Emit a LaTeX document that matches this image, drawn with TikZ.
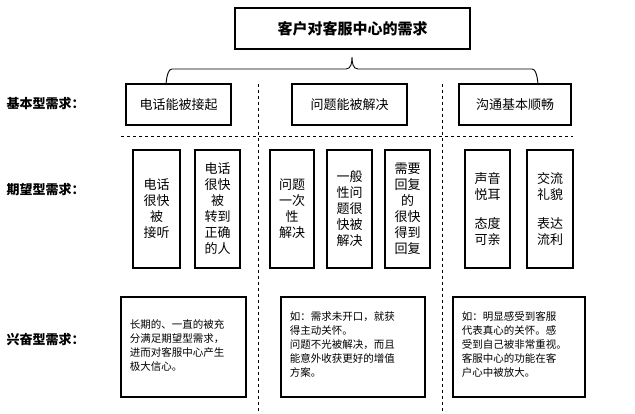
\documentclass[tikz,border=0pt]{standalone}
\usepackage{fontspec}
\setmainfont{Noto Sans CJK SC}
\usetikzlibrary{calc}
\begin{document}
\begin{tikzpicture}[x=1pt,y=-1pt,
 bx/.style={draw,line width=1.3pt,inner sep=0pt},
 dl/.style={dashed,line width=0.5pt},
 sm/.style={font=\fontsize{10.5}{14}\selectfont,align=left,anchor=north west},
 lab/.style={font=\fontsize{13}{15}\selectfont\bfseries,anchor=west}]
\useasboundingbox (0,0) rectangle (635,414);
\newcommand\bxat[6]{\node[bx,minimum width=#3-#1,minimum height=#4-#2,#6] (#5) at ({(#1+#3)/2},{(#2+#4)/2}) {};}
% title
\bxat{235}{8}{470}{49}{t}{}
\node[font=\fontsize{15}{17}\selectfont\bfseries] at (t) {客户对客服中心的需求};
% brace
\draw[line width=0.9pt] (166,84) to[out=-90,in=180] (172,69) -- (346,69) to[out=0,in=-90] (352,57) to[out=-90,in=180] (358,69) -- (532,69) to[out=0,in=-90] (538,84);
% basic
\bxat{126}{84}{231}{125}{b1}{}
\bxat{292}{84}{407}{125}{b2}{}
\bxat{459}{84}{571}{125}{b3}{}
\foreach \n/\s in {b1/电话能被接起,b2/问题能被解决,b3/沟通基本顺畅}
 \node[font=\fontsize{13}{15}\selectfont] at (\n) {\s};
% dashed
\coordinate (h1) at (121,136); \coordinate (h2) at (573,136);
\draw[dl] (h1) -- (h2);
\coordinate (v1a) at (258,84); \coordinate (v1b) at (258,414);
\coordinate (v2a) at (442,84); \coordinate (v2b) at (442,414);
\draw[dl] (v1a) -- (v1b); \draw[dl] (v2a) -- (v2b);
% expectation
\foreach \a/\b/\n/\s in {133/180/e1/{电话\\很快\\被\\接听},195/240/e2/{电话\\很快\\被\\转到\\正确\\的人},270/314/e3/{问题\\一次\\性\\解决},327/372/e4/{一般\\性问\\题很\\快被\\解决},385/430/e5/{需要\\回复\\的\\很快\\得到\\回复},465/510/e6/{声音\\悦耳\\[1em]态度\\可亲},527/573/e7/{交流\\礼貌\\[1em]表达\\流利}}{
 \bxat{\a}{150}{\b}{268}{\n}{}
 \node[font=\fontsize{13}{16}\selectfont,align=center] at (\n) {\s};
}
% excitement
\bxat{121}{297}{246}{397}{x1}{}
\bxat{281}{297}{425}{397}{x2}{}
\bxat{453}{297}{585}{397}{x3}{}
\node[sm] at ($(x1.north west)+(6,20)$) {长期的、一直的被充\\分满足期望型需求，\\进而对客服中心产生\\极大信心。};
\node[sm] at ($(x2.north west)+(6,12)$) {如：需求未开口，就获\\得主动关怀。\\问题不光被解决，而且\\能意外收获更好的增值\\方案。};
\node[sm] at ($(x3.north west)+(6,12)$) {如：明显感受到客服\\代表真心的关怀。感\\受到自己被非常重视。\\客服中心的功能在客\\户心中被放大。};
% labels
\node[lab] (l1) at (3,104) {基本型需求：};
\node[lab] (l2) at (3,190) {期望型需求：};
\node[lab] (l3) at (3,340) {兴奋型需求：};
\end{tikzpicture}
\end{document}
